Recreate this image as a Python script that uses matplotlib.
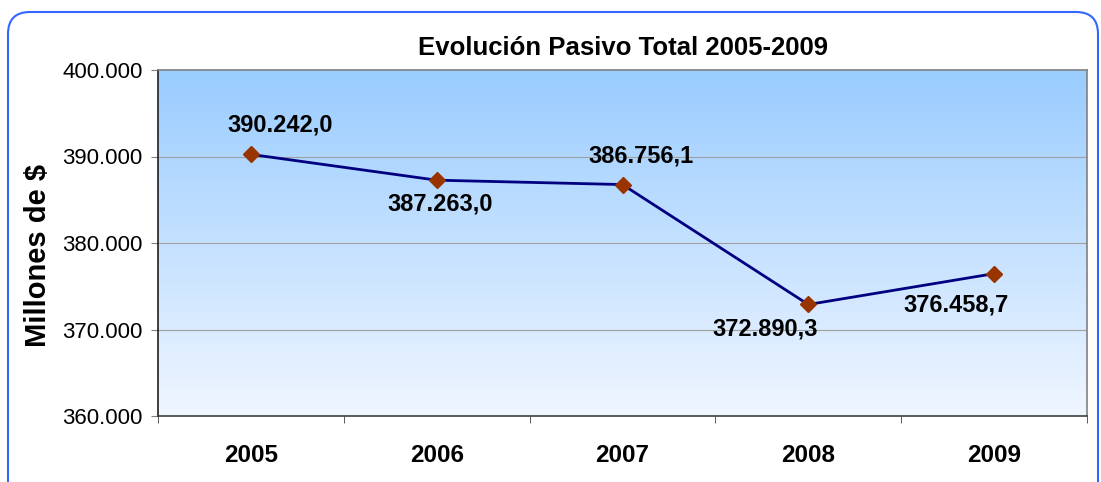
import numpy as np
import matplotlib.pyplot as plt
from matplotlib.patches import FancyBboxPatch

years = ['2005', '2006', '2007', '2008', '2009']
pasivo = [390242.0, 387263.0, 386756.1, 372890.3, 376458.7]
yticks = [360000, 370000, 380000, 390000, 400000]
# label offsets (pixels) relative to each point, as placed in the original
label_dx = [29, 3, 19, -43, -38]
label_dy = [29, -24, 29, -25, -31]


def fmt_es(v, dec):
    s = f"{v:,.{dec}f}"
    return s.replace(',', 'X').replace('.', ',').replace('X', '.')


plt.rcParams['font.family'] = ['Liberation Sans', 'DejaVu Sans']

fig = plt.figure(figsize=(11.01, 4.82), dpi=100)
ax = fig.add_axes([158 / 1101, 1 - 416 / 482, (1087 - 158) / 1101, (416 - 70) / 482])

# rounded blue frame around the chart (runs off the bottom edge)
frame = FancyBboxPatch((0.08, -0.5), 10.90, 4.70 + 0.5,
                       boxstyle="round,pad=0,rounding_size=0.22",
                       transform=fig.dpi_scale_trans, fill=False,
                       edgecolor='#3366FF', linewidth=1.5)
fig.patches.append(frame)

x = np.arange(len(years))
ax.set_xlim(-0.5, len(years) - 0.5)
ax.set_ylim(360000, 400000)

# gradient background
grad = np.linspace(0, 1, 256).reshape(-1, 1)
top = np.array([0x99, 0xCC, 0xFF]) / 255
bot = np.array([0xF0, 0xF6, 0xFF]) / 255
img = bot + (top - bot) * grad
ax.imshow(img[:, None, :].repeat(2, axis=1), extent=[-0.5, len(years) - 0.5, 360000, 400000],
          origin='lower', aspect='auto', zorder=0)

for yv in yticks[1:-1]:
    ax.axhline(yv, color='#A0A0A0', linewidth=0.8, zorder=1)

ax.plot(x, pasivo, color='#000080', linewidth=2, marker='D', markersize=8,
        markerfacecolor='#993300', markeredgecolor='#993300', zorder=3)

for xi, v, dx, dy in zip(x, pasivo, label_dx, label_dy):
    ax.annotate(fmt_es(v, 1), (xi, v), xytext=(dx * 0.72, dy * 0.72), textcoords='offset points',
                ha='center', va='center', fontsize=17, fontweight='bold', zorder=4)

ax.set_yticks(yticks)
ax.set_yticklabels([fmt_es(t, 0) for t in yticks], fontsize=16)
ax.set_xticks(x)
ax.set_xticklabels(years, fontsize=17.5, fontweight='bold')
ax.tick_params(axis='x', which='major', length=0, pad=20)
ax.set_xticks(np.arange(-0.5, len(years)), minor=True)
ax.tick_params(axis='x', which='minor', length=5, color='#404040', direction='out')
ax.tick_params(axis='y', length=5, color='#808080', pad=6)

ax.spines['left'].set_color('#202020')
ax.spines['bottom'].set_color('#404040')
ax.spines['top'].set_color('#808080')
ax.spines['right'].set_color('#808080')
for s in ax.spines.values():
    s.set_linewidth(1.2)

ax.set_ylabel('Millones de $', fontsize=21, fontweight='bold')
ax.yaxis.set_label_coords(-0.114, 0.465)
ax.set_title('Evolución Pasivo Total 2005-2009', fontsize=18.5, fontweight='bold', pad=11)

fig.savefig('out.png', dpi=100)
